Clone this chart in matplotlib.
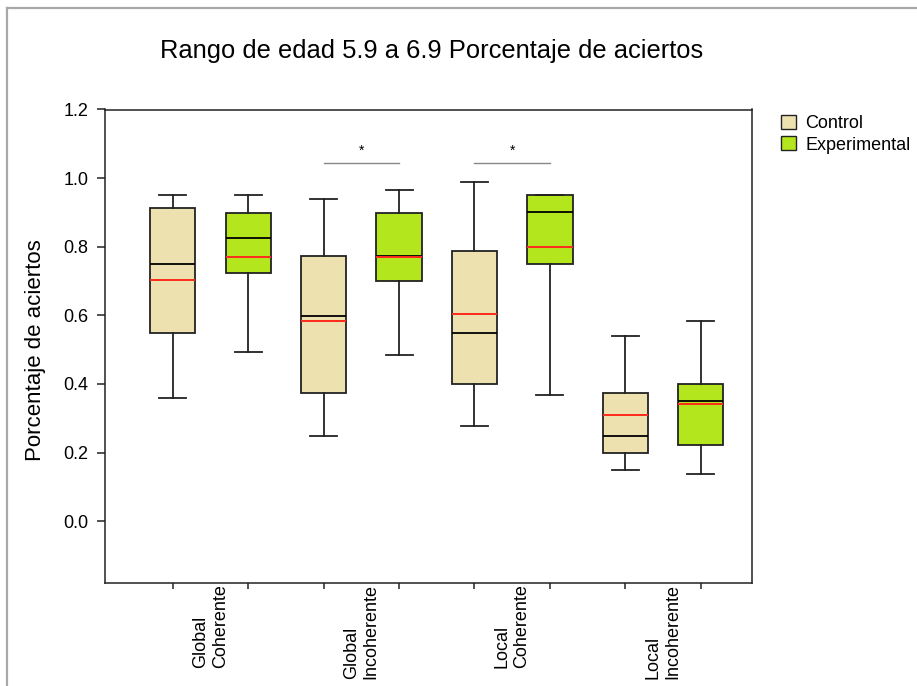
import matplotlib
matplotlib.use("Agg")
import matplotlib.pyplot as plt
from matplotlib.patches import Patch
from matplotlib.lines import Line2D

plt.rcParams['font.family'] = ['Liberation Sans', 'DejaVu Sans']

categories = ['Global\nCoherente', 'Global\nIncoherente', 'Local\nCoherente', 'Local\nIncoherente']
groups = ['Control', 'Experimental']

control_whislo = [0.358, 0.249, 0.279, 0.148]
control_q1 = [0.549, 0.374, 0.400, 0.199]
control_med = [0.749, 0.599, 0.550, 0.249]
control_mean = [0.702, 0.585, 0.605, 0.310]
control_q3 = [0.912, 0.774, 0.789, 0.374]
control_whishi = [0.951, 0.940, 0.990, 0.540]

exp_whislo = [0.494, 0.485, 0.369, 0.139]
exp_q1 = [0.724, 0.701, 0.750, 0.223]
exp_med = [0.826, 0.774, 0.900, 0.350]
exp_mean = [0.771, 0.770, 0.800, 0.341]
exp_q3 = [0.899, 0.899, 0.951, 0.399]
exp_whishi = [0.951, 0.965, 0.951, 0.585]

sig_categories = [1, 2]
sig_level = 1.045
sig_label = '*'

yticks = [0.0, 0.2, 0.4, 0.6, 0.8, 1.0, 1.2]

control_color = '#EDE1B0'
exp_color = '#B4E61E'
edge = '#222222'

fig = plt.figure(figsize=(9.17, 6.86), dpi=100)
W, H = 917, 686
ax = fig.add_axes([105 / W, 1 - 583 / H, 647 / W, 473.5 / H])


def make_stats(lo, q1, med, mean, q3, hi):
    return [dict(whislo=a, q1=b, med=c, mean=d, q3=e, whishi=f, fliers=[])
            for a, b, c, d, e, f in zip(lo, q1, med, mean, q3, hi)]


series = [
    (make_stats(control_whislo, control_q1, control_med, control_mean, control_q3, control_whishi), control_color, 1),
    (make_stats(exp_whislo, exp_q1, exp_med, exp_mean, exp_q3, exp_whishi), exp_color, 2),
]

for stats, color, off in series:
    positions = [2 * i + off for i in range(len(stats))]
    ax.bxp(stats, positions=positions, widths=0.6, capwidths=0.36,
           patch_artist=True, showmeans=True, meanline=True, showfliers=False,
           boxprops=dict(facecolor=color, edgecolor=edge, linewidth=1.3),
           medianprops=dict(color='black', linewidth=1.3),
           meanprops=dict(color='#FF2A1A', linewidth=1.4, linestyle='-'),
           whiskerprops=dict(color=edge, linewidth=1.3),
           capprops=dict(color=edge, linewidth=1.3))

ax.set_xlim(0.1, 8.68)
ax.set_ylim(-0.18, 1.2)
ax.set_yticks(yticks)
ax.set_yticklabels([f'{v:.1f}' for v in yticks])
ax.set_xticks(range(1, 2 * len(categories) + 1))
ax.set_xticklabels([])
ax.tick_params(axis='y', direction='out', length=6, width=1.1, labelsize=13, pad=6, colors='#222', labelcolor='black')
ax.tick_params(axis='x', direction='out', length=4.5, width=1.1, colors='#222')
for s in ax.spines.values():
    s.set_linewidth(1.1)
    s.set_color(edge)

for i, cat in enumerate(categories):
    ax.annotate(cat, xy=(2 * i + 1.5, 0), xycoords=('data', 'axes fraction'),
                xytext=(0, -0.5), textcoords='offset points',
                rotation=90, ha='center', va='top', multialignment='left', fontsize=13)

for c in sig_categories:
    x1, x2 = 2 * c + 1, 2 * c + 2
    ax.plot([x1, x2], [sig_level, sig_level], color='#888888', linewidth=1.0)
    ax.text((x1 + x2) / 2, sig_level + 0.014, sig_label, ha='center', va='bottom', fontsize=10)

fig.text(432 / W, 1 - 51 / H, 'Rango de edad 5.9 a 6.9 Porcentaje de aciertos',
         ha='center', va='center', fontsize=18.4)
fig.text(36 / W, 1 - 350 / H, 'Porcentaje de aciertos', rotation=90,
         ha='center', va='center', fontsize=16)

handles = [Patch(facecolor=control_color, edgecolor=edge, linewidth=1.0, label=groups[0]),
           Patch(facecolor=exp_color, edgecolor=edge, linewidth=1.0, label=groups[1])]
fig.legend(handles=handles, loc='upper left', bbox_to_anchor=(781 / W, 1 - 115 / H),
           frameon=False, fontsize=13, handlelength=0.85, handleheight=0.85,
           handletextpad=0.5, labelspacing=0.2, borderaxespad=0, borderpad=0)

# screenshot frame (top and left gray border)
fig.add_artist(Line2D([7 / W, 1], [1 - 8 / H, 1 - 8 / H], transform=fig.transFigure, color='#A8A8A8', linewidth=1.6))
fig.add_artist(Line2D([7 / W, 7 / W], [0, 1 - 8 / H], transform=fig.transFigure, color='#A8A8A8', linewidth=1.6))

fig.savefig('out.png', dpi=100)
